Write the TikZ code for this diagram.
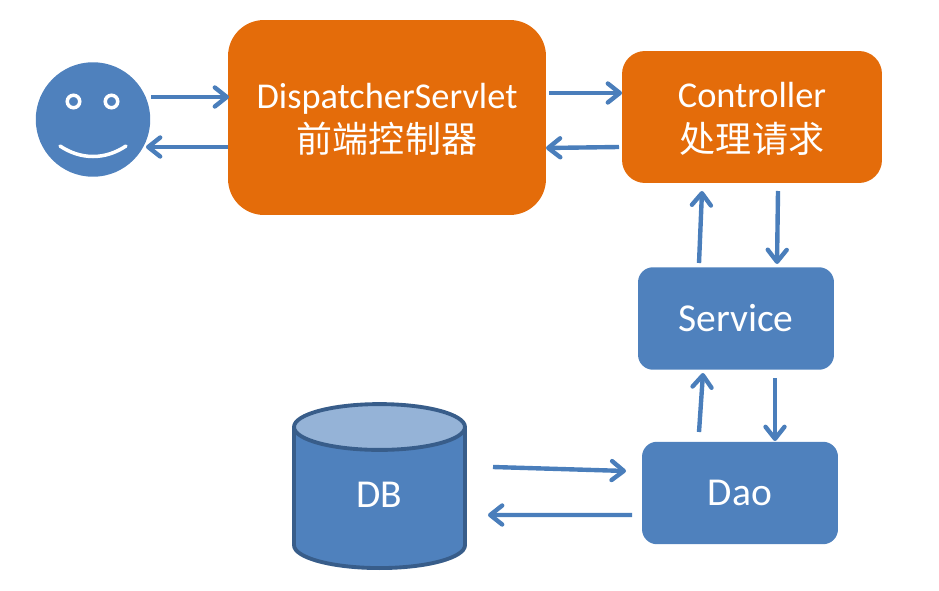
\documentclass[tikz,border=0pt]{standalone}
\usepackage{fontspec}
\setmainfont{Carlito}
\newfontfamily\cjk{Noto Sans CJK SC}
\usetikzlibrary{shapes.geometric}
\usetikzlibrary{arrows.meta}
\definecolor{boxblue}{HTML}{4F81BD}
\definecolor{boxorange}{HTML}{E46C0A}
\definecolor{dbedge}{HTML}{385D8A}
\definecolor{dbtop}{HTML}{95B3D7}
\definecolor{flowblue}{HTML}{4A7EBB}
\tikzstyle{every picture}=[x=0.02cm, y=-0.02cm]
\tikzstyle{box}=[draw=none, text=white, font=\fontsize{22.5}{26}\selectfont, align=center, inner sep=0pt]
\tikzstyle{orangebox}=[box, rectangle, fill=boxorange, font=\fontsize{20.7}{25.5}\selectfont]
\tikzstyle{bluebox}=[box, rectangle, fill=boxblue, rounded corners=0.3cm, minimum width=3.92cm, minimum height=2.05cm]
\tikzstyle{eye}=[circle, draw=white, fill=boxblue, line width=2pt, minimum size=0.25cm, inner sep=0pt]
\tikzstyle{flow}=[draw=flowblue, line width=2.5pt, -{Straight Barb[length=0.24cm, width=0.38cm, line width=2.5pt, round]}]

\begin{document}
\begin{tikzpicture}
	\useasboundingbox (0,0) rectangle (939,591);

	\path (93,119.5) node [circle, fill=boxblue, minimum size=2.29cm, inner sep=0pt] (user) {}
	      (73.5,101.5) node [eye] (eye_l) {}
	      (111.5,101.5) node [eye] (eye_r) {}
	      (387,117.5) node [orangebox, rounded corners=0.72cm, minimum width=6.36cm, minimum height=3.9cm] (dispatcher) {\rule{0pt}{16.5pt}DispatcherServlet\\{\cjk\fontsize{20.5}{25.5}\selectfont 前端控制器}}
	      (752,117) node [orangebox, rounded corners=0.46cm, minimum width=5.2cm, minimum height=2.64cm] (controller) {\rule{0pt}{16.5pt}Controller\\{\cjk\fontsize{20.5}{25.5}\selectfont 处理请求}}
	      (736,318.5) node [bluebox] (service) {Service}
	      (740,493) node [bluebox] (dao) {Dao}
	      (379.5,498.5) node [box, cylinder, shape border rotate=90, aspect=1, draw=dbedge, line width=2.2pt,
	            cylinder uses custom fill, cylinder body fill=boxblue, cylinder end fill=dbtop,
	            text depth=4pt, minimum width=3.42cm, minimum height=3.28cm] (db) {DB};

	% smile
	\draw[white, line width=2pt, line cap=round] ([shift={(-33,26.5)}]user.center)
	      .. controls ([shift={(-12,40.5)}]user.center) and ([shift={(12,40.5)}]user.center) .. ([shift={(33,26.5)}]user.center);

	\draw[flow] ([shift={(58,-22.5)}]user.center) -- ([shift={(-158,-20.5)}]dispatcher.center);
	\draw[flow] ([shift={(-159,29.5)}]dispatcher.center) -- ([shift={(53,27.5)}]user.center);
	\draw[flow] ([shift={(162,-24.5)}]dispatcher.center) -- ([shift={(-130,-24)}]controller.center);
	\draw[flow] ([shift={(-133,30)}]controller.center) -- ([shift={(159,30.5)}]dispatcher.center);
	\draw[flow] ([shift={(-37,-55.5)}]service.center) -- ([shift={(-50,74)}]controller.center);
	\draw[flow] ([shift={(26,74)}]controller.center) -- ([shift={(41,-54.5)}]service.center);
	\draw[flow] ([shift={(-41,-61)}]dao.center) -- ([shift={(-33,54.5)}]service.center);
	\draw[flow] ([shift={(39,59.5)}]service.center) -- ([shift={(35,-52)}]dao.center);
	\draw[flow] ([shift={(113.5,-31.5)}]db.center) -- ([shift={(-114,-22)}]dao.center);
	\draw[flow] ([shift={(-108,22)}]dao.center) -- ([shift={(108.5,16.5)}]db.center);
\end{tikzpicture}
\end{document}
